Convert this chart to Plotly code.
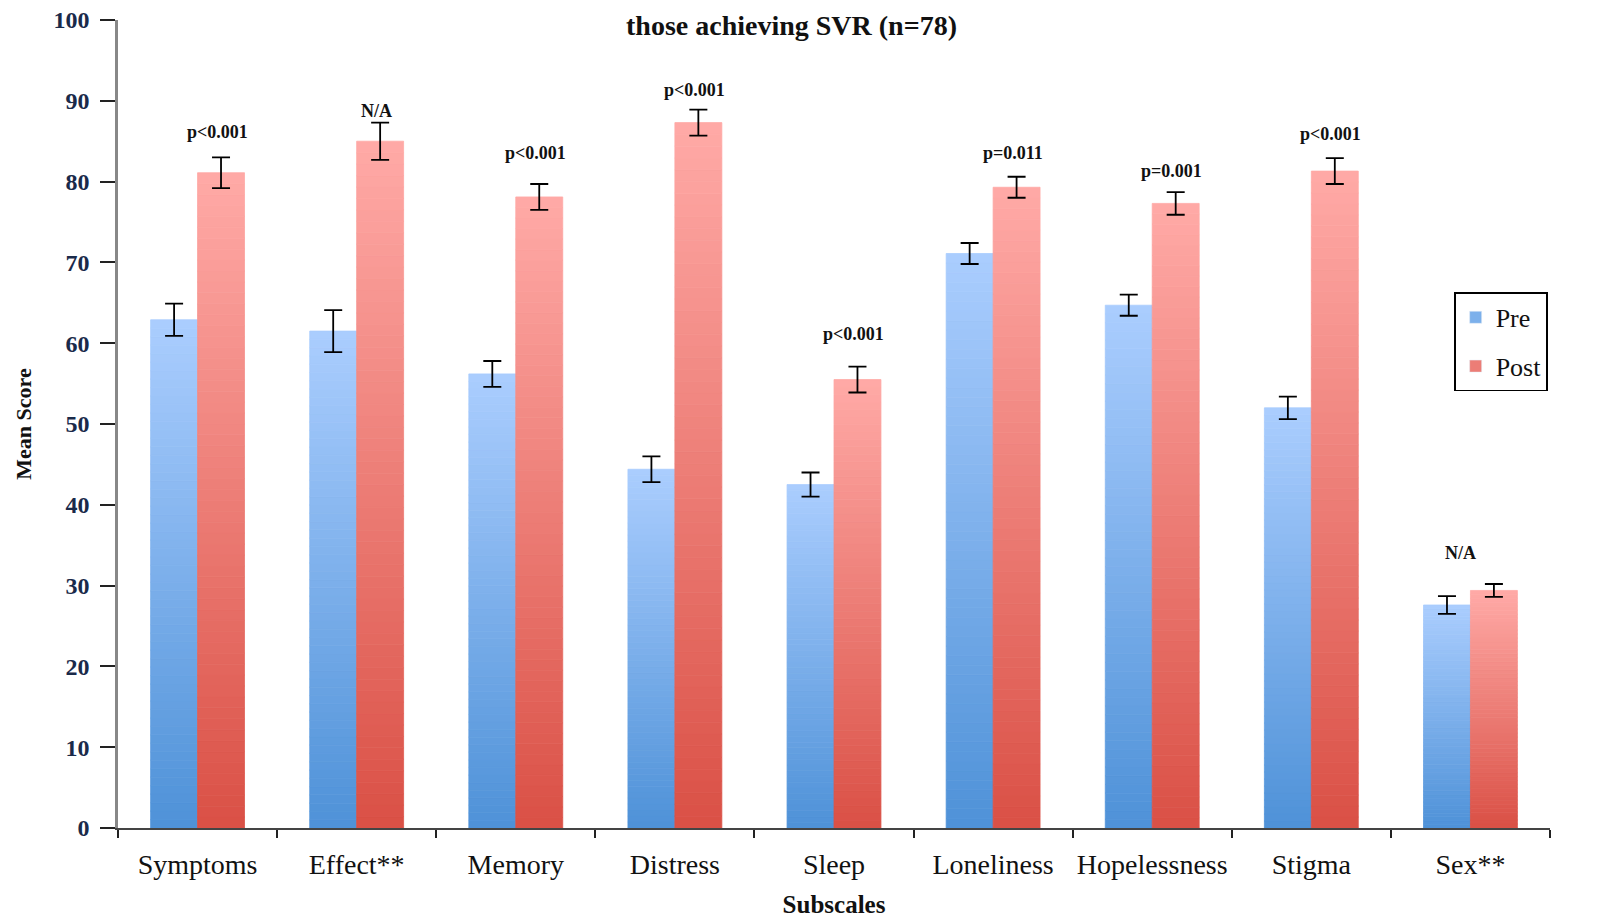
import plotly.graph_objects as go

categories = ["Symptoms", "Effect**", "Memory", "Distress", "Sleep",
              "Loneliness", "Hopelessness", "Stigma", "Sex**"]
pre_values = [62.9, 61.5, 56.2, 44.4, 42.5, 71.1, 64.7, 52.0, 27.6]
pre_errors = [2.0, 2.6, 1.6, 1.6, 1.5, 1.3, 1.3, 1.4, 1.1]
post_values = [81.1, 85.0, 78.1, 87.3, 55.5, 79.3, 77.3, 81.3, 29.4]
post_errors = [1.9, 2.3, 1.6, 1.6, 1.6, 1.3, 1.4, 1.6, 0.8]
p_labels = ["p<0.001", "N/A", "p<0.001", "p<0.001", "p<0.001",
            "p=0.011", "p=0.001", "p<0.001", "N/A"]
p_label_y = [86.1, 88.8, 83.6, 91.3, 61.2, 83.6, 81.3, 85.9, 34.0]
y_ticks = list(range(0, 101, 10))

SERIF = "Liberation Serif, DejaVu Serif, serif"
N_SEG = 60
BARGAP = 0.41
half = (1 - BARGAP) / 2  # width of one bar in category units


def hex_to_rgb(h):
    h = h.lstrip("#")
    return tuple(int(h[i:i + 2], 16) for i in (0, 2, 4))


def interp(c0, c1, t):
    a, b = hex_to_rgb(c0), hex_to_rgb(c1)
    return "rgb(%d,%d,%d)" % tuple(round(a[i] + (b[i] - a[i]) * t) for i in range(3))


series = [
    ("Pre", pre_values, pre_errors, "#4f92d8", "#aacdfe", "pre"),
    ("Post", post_values, post_errors, "#da5146", "#ffa9a6", "post"),
]

xs = list(range(len(categories)))
fig = go.Figure()
for name, vals, errs, c_bot, c_top, grp in series:
    for k in range(N_SEG):
        t = k / (N_SEG - 1)
        col = interp(c_bot, c_top, t)
        seg = [v / N_SEG for v in vals]
        base = [v * k / N_SEG for v in vals]
        top = k == N_SEG - 1
        fig.add_trace(go.Bar(
            x=xs, y=seg, base=base, name=name,
            offsetgroup=grp, legendgroup=grp,
            showlegend=False,
            marker=dict(color=col, line=dict(width=0.8, color=col)),
            error_y=dict(type="data", array=errs, visible=True,
                         color="black", thickness=1.8, width=9) if top else None,
            hoverinfo="skip",
        ))
    # legend entry
    fig.add_trace(go.Bar(
        x=[None], y=[None], name=name, offsetgroup=grp, legendgroup=grp,
        marker=dict(color=interp(c_bot, c_top, 0.5)), showlegend=True,
    ))

for i, (lab, ly) in enumerate(zip(p_labels, p_label_y)):
    xoff = half / 2 - 0.025 if i < len(categories) - 1 else -0.06
    fig.add_annotation(x=i + xoff, y=ly, text="<b>%s</b>" % lab, showarrow=False,
                       font=dict(family=SERIF, size=18, color="#111"),
                       xref="x", yref="y")

# title (second line of the original title, at the very top of the page)
fig.add_annotation(x=0.47, y=1.0, xref="paper", yref="paper", yanchor="top",
                   yshift=12, text="<b>those achieving SVR (n=78)</b>",
                   showarrow=False, font=dict(family=SERIF, size=28, color="#111"))

fig.update_layout(
    width=1589, height=910,
    margin=dict(l=110, r=47, t=12, b=90),
    paper_bgcolor="white", plot_bgcolor="white",
    barmode="group", bargap=BARGAP, bargroupgap=0,
    showlegend=True,
    legend=dict(x=0.933, y=0.663, xanchor="left", yanchor="top",
                bordercolor="black", borderwidth=1.6, bgcolor="white",
                font=dict(family=SERIF, size=26, color="#111"),
                itemwidth=30, tracegroupgap=12),
    xaxis=dict(
        range=[-0.5, len(categories) - 0.5], automargin=False,
        tickmode="array", tickvals=xs, ticktext=categories,
        ticks="", showgrid=False, zeroline=False, ticklabelstandoff=10,
        showline=True, linecolor="#444", linewidth=1.8,
        tickfont=dict(family=SERIF, size=28, color="#111"),
        minor=dict(tickmode="array",
                   tickvals=[i - 0.5 for i in range(len(categories) + 1)],
                   ticks="outside", ticklen=8, tickwidth=1.8, tickcolor="#222",
                   showgrid=False),
        title=dict(text="<b>Subscales</b>", standoff=17,
                   font=dict(family=SERIF, size=25, color="#111")),
    ),
    yaxis=dict(
        range=[0, 100], tickmode="array", tickvals=y_ticks, automargin=False,
        ticks="outside", ticklen=15, tickwidth=1.8, tickcolor="#222",
        ticklabelstandoff=6, ticklabeloverflow="allow",
        showgrid=False, zeroline=False,
        showline=True, linecolor="#888", linewidth=2.5,
        tickfont=dict(family=SERIF, size=24, color="#1a2a4a", weight="bold"),
        title=dict(text="<b>Mean Score</b>", standoff=16,
                   font=dict(family=SERIF, size=22, color="#111")),
    ),
)

fig.write_html("out.html")
